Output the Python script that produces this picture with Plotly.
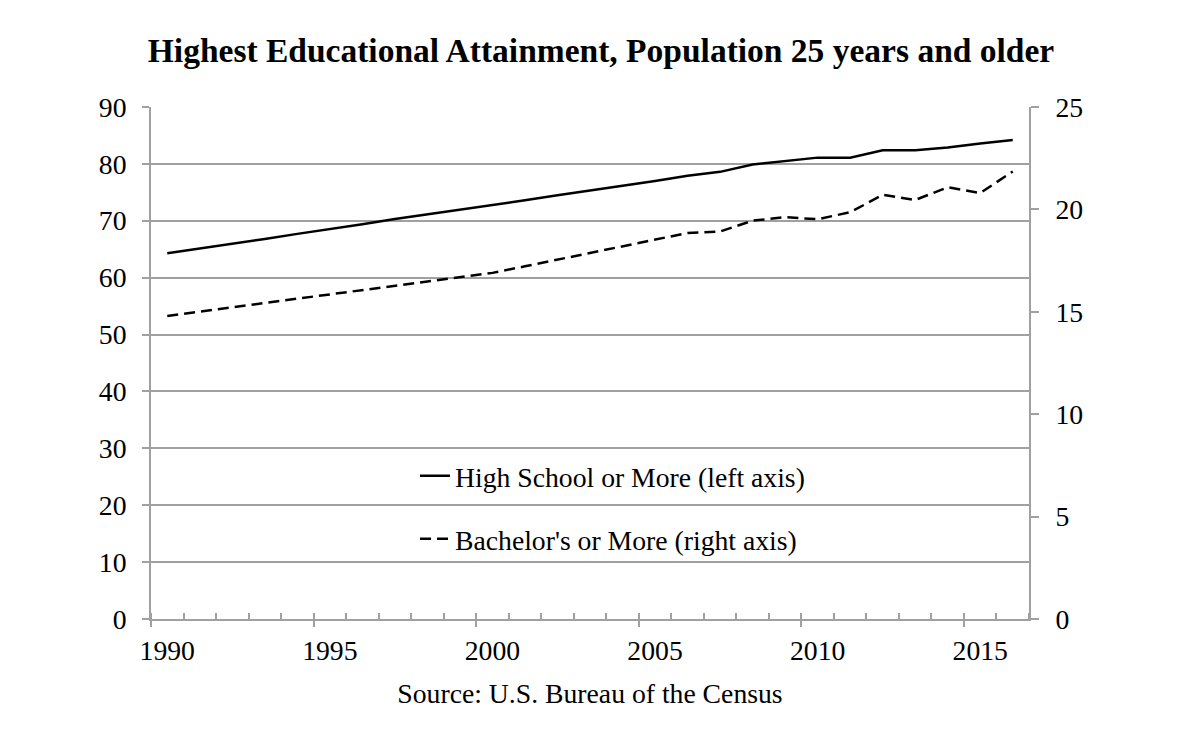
import plotly.graph_objects as go

years = list(range(1990, 2017))
high_school = [64.3, 65.1, 66.0, 66.8, 67.7, 68.5, 69.4, 70.3, 71.1, 71.9,
               72.8, 73.6, 74.5, 75.3, 76.2, 77.0, 77.9, 78.6, 79.9, 80.5,
               81.1, 81.1, 82.4, 82.4, 82.9, 83.6, 84.2]
bachelors = [14.8, 15.01, 15.22, 15.43, 15.64, 15.85, 16.06, 16.27, 16.48, 16.69,
             16.9, 17.22, 17.55, 17.87, 18.2, 18.52, 18.85, 18.92, 19.45, 19.62,
             19.52, 19.86, 20.71, 20.46, 21.08, 20.8, 21.85]
label_years = [1990, 1995, 2000, 2005, 2010, 2015]
left_ticks = list(range(0, 91, 10))
right_ticks = list(range(0, 26, 5))

title = "Highest Educational Attainment, Population 25 years and older"
source = "Source: U.S. Bureau of the Census"
name_hs = "High School or More (left axis)"
name_ba = "Bachelor's or More (right axis)"

FONT = "Liberation Serif, Times New Roman, serif"
GRAY = "#a0a0a0"
FS = 27.7

x_lo, x_hi = years[0] - 0.5, years[-1] + 0.5
boundaries = [y - 0.5 for y in years] + [years[-1] + 0.5]
major_bounds = [y - 0.5 for y in label_years]

fig = go.Figure()
fig.add_trace(go.Scatter(x=years, y=high_school, name=name_hs, mode="lines",
                         line=dict(color="black", width=2.5),
                         xaxis="x", yaxis="y", legendgroup="a"))
fig.add_trace(go.Scatter(x=years, y=bachelors, name=name_ba, mode="lines",
                         line=dict(color="black", width=2.5, dash="11px,6px"),
                         xaxis="x2", yaxis="y2", legendgroup="b"))

fig.update_layout(
    width=1200, height=746,
    paper_bgcolor="white", plot_bgcolor="white",
    margin=dict(l=143, r=179, t=99, b=135),
    font=dict(family=FONT, size=FS, color="black"),
    title=dict(text=title, x=(601 - 8) / 1200, xanchor="center", y=1 - 42 / 746,
               yanchor="middle", yref="container",
               font=dict(family=FONT, size=33.5, color="black", weight="bold")),
    xaxis=dict(range=[x_lo, x_hi], tickvals=label_years, ticktext=[str(v) for v in label_years],
               ticks="", showline=True, linecolor=GRAY, linewidth=1.8, showgrid=False,
               zeroline=False, ticklabelstandoff=6,
               minor=dict(tickvals=boundaries, ticks="inside", ticklen=6,
                          tickcolor=GRAY, tickwidth=1.5, showgrid=False),
               title=dict(text=source, standoff=18, font=dict(size=FS))),
    xaxis2=dict(range=[x_lo, x_hi], overlaying="x", anchor="y2", side="bottom",
                tickvals=major_bounds, ticks="outside", ticklen=7, tickcolor=GRAY,
                tickwidth=1.5, showticklabels=False, showline=False, showgrid=False,
                zeroline=False),
    yaxis=dict(range=[0, 90], tickvals=left_ticks, ticks="outside", ticklen=7,
               tickcolor=GRAY, tickwidth=1.5, showline=True, linecolor=GRAY, linewidth=1.8,
               showgrid=True, gridcolor=GRAY, gridwidth=1.8, zeroline=False,
               ticklabelstandoff=10),
    yaxis2=dict(range=[0, 25], tickvals=right_ticks, overlaying="y", side="right",
                anchor="x2", ticks="outside", ticklen=8, tickcolor=GRAY, tickwidth=1.5,
                showline=True, linecolor=GRAY, linewidth=1.8, showgrid=False,
                zeroline=False, ticklabelstandoff=11),
    legend=dict(x=(407 - 143) / 878, y=(618.5 - 451) / 511.5, xanchor="left", yanchor="top",
                bgcolor="rgba(0,0,0,0)", font=dict(family=FONT, size=FS),
                traceorder="grouped", tracegroupgap=24),
    showlegend=True,
)

fig.write_html("out.html")
